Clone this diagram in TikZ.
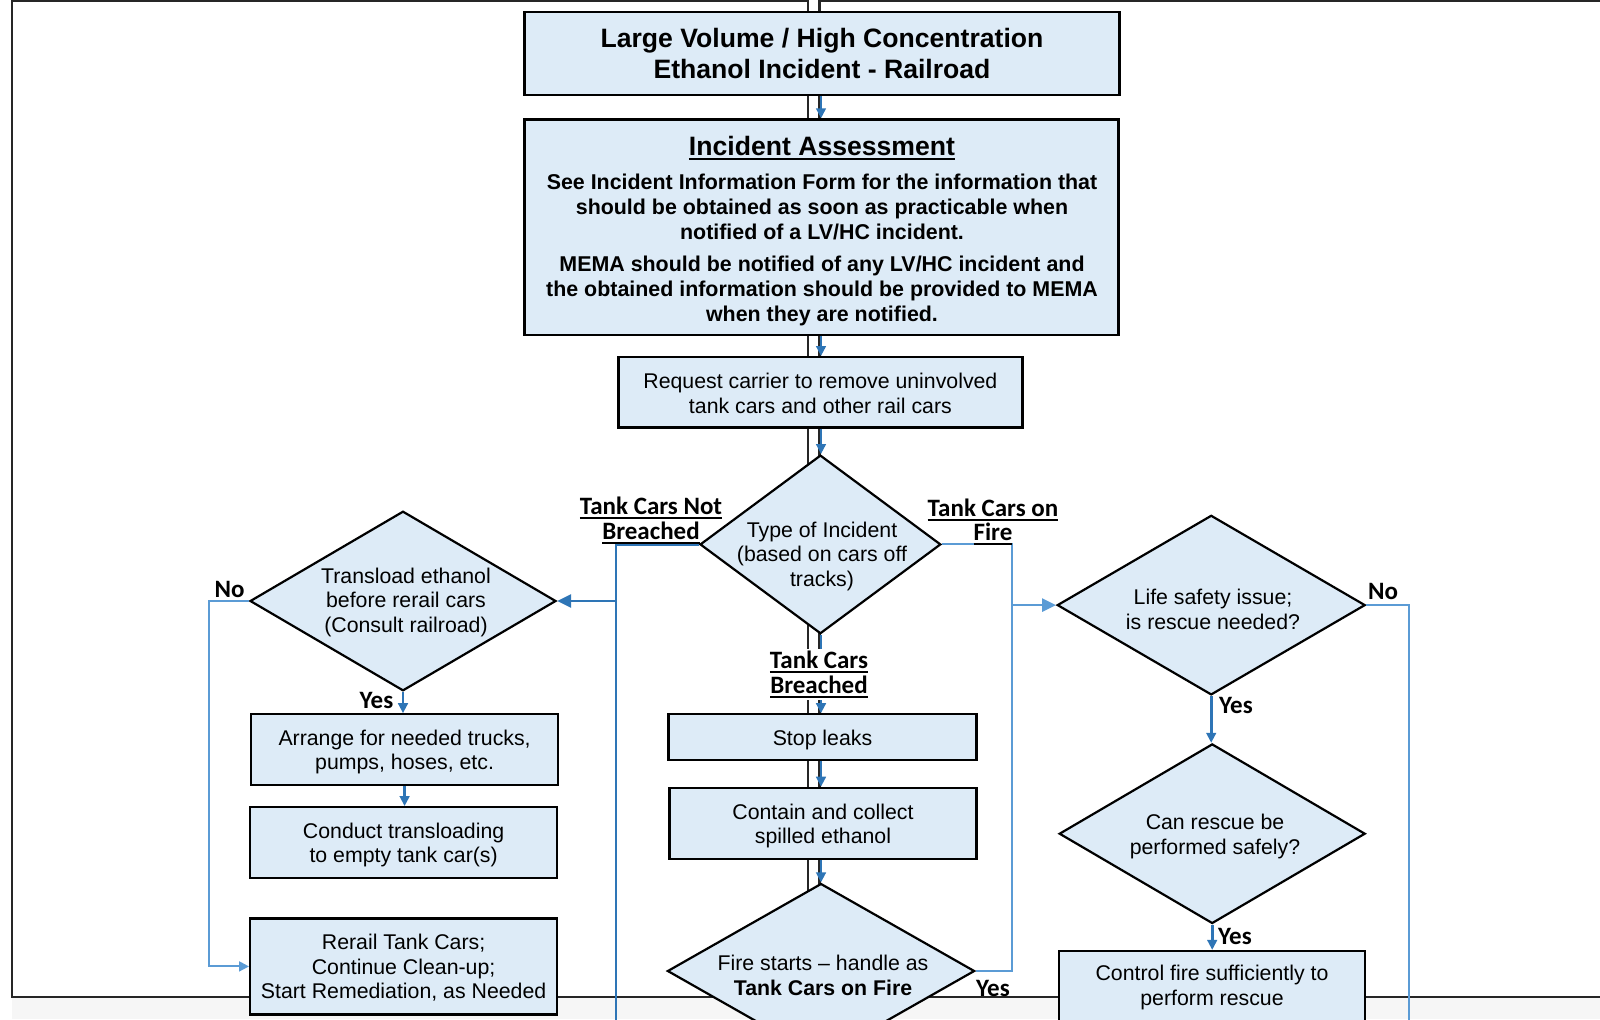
\documentclass[tikz,border=0pt]{standalone}
\usepackage{fontspec}
\setmainfont{Liberation Sans}
\newfontfamily\calfont{Carlito}
\usetikzlibrary{shapes.geometric,arrows.meta}
\definecolor{boxfill}{RGB}{221,235,247}
\definecolor{flowdark}{RGB}{46,117,182}
\definecolor{flowlight}{RGB}{91,155,213}
\definecolor{framegray}{RGB}{38,38,38}
\definecolor{stripgray}{RGB}{246,246,246}
% underline with a heavier rule than \underline
\newcommand\ulword[1]{\setbox0\hbox{#1}\rlap{\rule[-2.2pt]{\wd0}{0.9pt}}\box0}
\begin{document}
\begin{tikzpicture}[x=0.5pt,y=-0.5pt,
  body/.style={font=\fontsize{10.65}{12.25}\selectfont},
  box/.style={draw=black,line width=1.1pt,fill=boxfill,inner sep=0pt,align=center,body},
  dia/.style={draw=black,line width=1.1pt,fill=boxfill,diamond,inner sep=0pt},
  txt/.style={inner sep=0pt,align=center,body},
  branch/.style={inner sep=0pt,align=center,font=\calfont\bfseries\fontsize{12.5}{12.25}\selectfont},
  yn/.style={inner sep=0pt,font=\calfont\bfseries\fontsize{12.5}{12.25}\selectfont},
  pageframe/.style={draw=framegray,line width=1.3pt},
  flow/.style={draw=flowdark,line width=1.3pt,-{Triangle[length=5pt,width=4.8pt]}},
  flowline/.style={draw=flowdark,line width=1.3pt},
  bigtip/.style={-{Triangle[length=7pt,width=6.5pt]}},
  alt/.style={draw=flowlight,line width=1pt},
  alttip/.style={-{Triangle[length=5pt,width=5pt]}},
]
\clip (0,0) rectangle (1600,1019);
\fill[stripgray] (12,998) rectangle (1600,1019);

% page frames behind the chart
\draw[pageframe] (808,1) -- (12,1) -- (12,997) -- (808,997) -- cycle;
\draw[pageframe] (1610,1) -- (819.5,1) -- (819.5,997) -- (1610,997);

\coordinate (spine) at (821,0);

% central column
\node[box,minimum width=297.5pt,minimum height=41.35pt,
      font=\bfseries\fontsize{13.3}{15.3}\selectfont] (title) at (822,53.5)
  {Large Volume / High Concentration\\Ethanol Incident - Railroad};

\node[box,minimum width=297pt,minimum height=107.6pt] (assess) at (821.5,227) {};
\node[txt,font=\bfseries\fontsize{10.7}{12.5}\selectfont] (assesstxt) at (822,231)
  {{\fontsize{13.3}{15}\selectfont\ulword{Incident Assessment}}\\[4.3pt]
   See Incident Information Form for the information that\\
   should be obtained as soon as practicable when\\
   notified of a LV/HC incident.\\[3.5pt]
   MEMA should be notified of any LV/HC incident and\\
   the obtained information should be provided to MEMA\\
   when they are notified.};

\node[box,minimum width=202pt,minimum height=35.2pt] (request) at (820.4,392.3) {};
\node[txt] (requesttxt) at ([yshift=-0.6pt]request.center)
  {Request carrier to remove uninvolved\\tank cars and other rail cars};

\node[dia,minimum width=120.4pt,minimum height=89.3pt] (type) at (820.4,544.4) {};
\node[txt] (typetxt) at (822,556) {Type of Incident\\(based on cars off\\tracks)};

\node[box,minimum width=154pt,minimum height=23pt] (stop) at (822.5,737.3) {};
\node[txt] (stoptxt) at ([yshift=-1.3pt]stop.center) {Stop leaks};
\node[box,minimum width=153.5pt,minimum height=35.7pt] (contain) at (823,823.5) {};
\node[txt] (containtxt) at ([yshift=-1.3pt]contain.center) {Contain and collect\\spilled ethanol};

\node[dia,minimum width=153.6pt,minimum height=87.5pt] (fire) at (821,971) {};
\node[txt] (firetxt) at (823,975.5)
  {Fire starts \textendash{} handle as\\\textbf{Tank Cars on Fire}};

% left column
\node[dia,minimum width=153pt,minimum height=89.8pt] (transload) at (403,601) {};
\node[txt] (transloadtxt) at (406,602)
  {Transload ethanol\\before rerail cars\\(Consult railroad)};

\node[box,minimum width=153.5pt,minimum height=35.2pt] (arrange) at (404.6,749.5) {};
\node[txt] (arrangetxt) at ([yshift=-1.2pt]arrange.center)
  {Arrange for needed trucks,\\pumps, hoses, etc.};
\node[box,minimum width=153.5pt,minimum height=35.2pt] (conduct) at (403.6,842.4) {};
\node[txt] (conducttxt) at ([yshift=-1.2pt]conduct.center)
  {Conduct transloading\\to empty tank car(s)};
\node[box,minimum width=153.5pt,minimum height=48pt] (rerail) at (403.6,966.4) {};
\node[txt] (rerailtxt) at ([yshift=-0.8pt]rerail.center)
  {Rerail Tank Cars;\\Continue Clean-up;\\Start Remediation, as Needed};

% right column
\node[dia,minimum width=154pt,minimum height=89.8pt] (life) at (1211.2,605.1) {};
\node[txt] (lifetxt) at (1213,609.2) {Life safety issue;\\is rescue needed?};

\node[dia,minimum width=153pt,minimum height=89.8pt] (canrescue) at (1212.2,833.7) {};
\node[txt] (canrescuetxt) at (1215,836.7) {Can rescue be\\performed safely?};

\node[box,minimum width=153pt,minimum height=47pt] (control) at (1212.2,998) {};
\node[txt] (controltxt) at (1212,987.5) {Control fire sufficiently to\\perform rescue};

% connectors of the central column
\draw[flow] (title.south -| spine) -- (assess.north -| spine);
\draw[flow] (assess.south -| spine) -- (request.north -| spine);
\draw[flow] (request.south -| spine) -- (type.north -| spine);
\draw[flow] (type.south -| spine) -- (stop.north -| spine);
\draw[flow] (stop.south -| spine) -- (contain.north -| spine);
\draw[flow] (contain.south -| spine) -- (fire.north -| spine);

% not breached branch
\coordinate (wbot) at (616,1030);
\draw[flowline] (type.west) -| (wbot);
\draw[flow,bigtip] (wbot |- transload.east) -- (transload.east);

% on fire branch
\coordinate (ecol) at (1012,760);
\draw[alt] (type.east) -| (ecol) |- (fire.east);
\draw[alt,line width=1.3pt,-{Triangle[length=7pt,width=6.5pt]}] (ecol |- life.west) -- (life.west);

% left column connectors
\draw[flow] (transload.south) -- (transload.south |- arrange.north);
\draw[flow] (arrange.south) -- (arrange.south |- conduct.north);
\coordinate (nol) at (209,800);
\draw[alt,alttip] (transload.west) -| (nol) |- (rerail.west);

% right column connectors
\draw[flow] (life.south) -- (life.south |- canrescue.north);
\draw[flow] (canrescue.south) -- (canrescue.south |- control.north);
\coordinate (nor) at (1409,1030);
\draw[alt] (life.east) -| (nor);

% branch labels
\node[branch] (lblnot) at (651,520.5) {\ulword{Tank Cars Not}\\\ulword{Breached}};
\node[branch] (lblfire) at (993,522) {\ulword{Tank Cars on}\\\ulword{Fire}};
\node[branch,fill=white,inner sep=1pt] (lblbreach) at (819,674.5) {\ulword{Tank Cars}\\\ulword{Breached}};

\node[yn] (ynA) at (229.6,589.5) {No};
\node[yn] (ynB) at (376.5,700.5) {Yes};
\node[yn] (ynC) at (1383,591.5) {No};
\node[yn] (ynD) at (1236,705.5) {Yes};
\node[yn] (ynE) at (1235,936.5) {Yes};
\node[yn] (ynF) at (993,988.5) {Yes};
\end{tikzpicture}
\end{document}
